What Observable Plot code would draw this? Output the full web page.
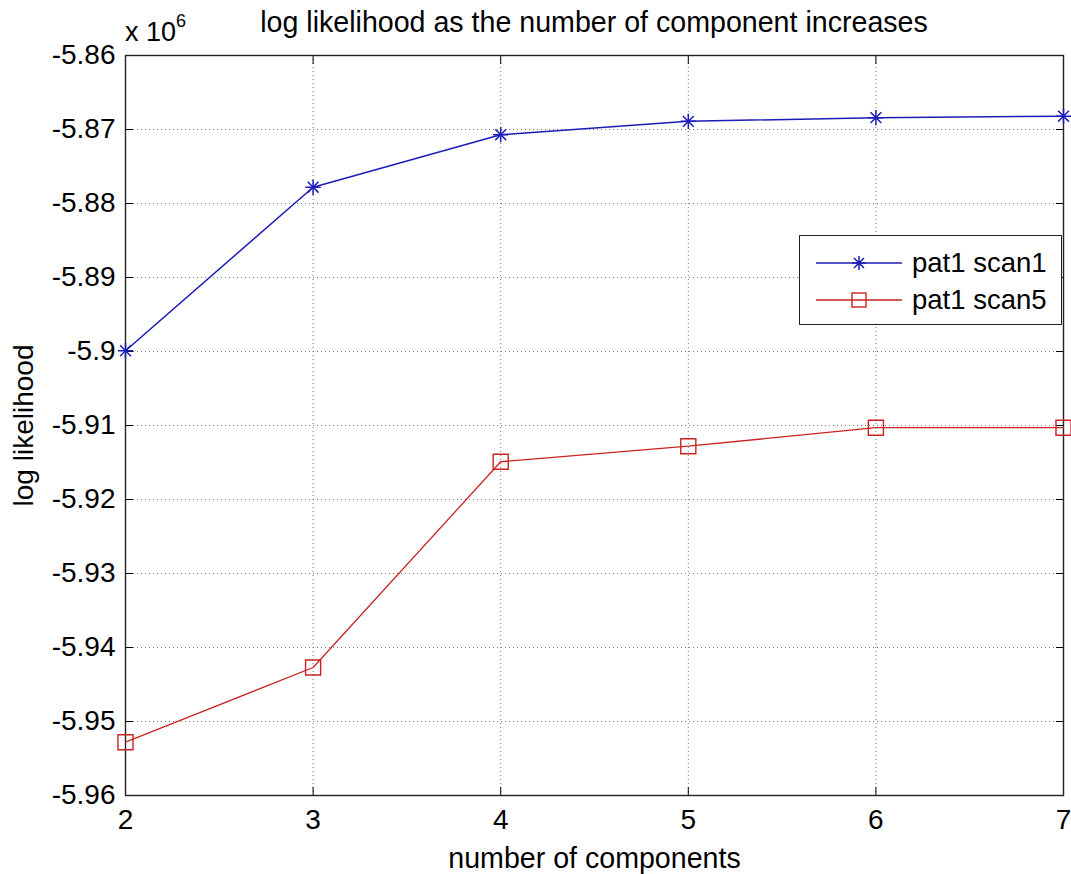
<!DOCTYPE html>
<html>
<head>
<meta charset="utf-8">
<script src="https://cdn.jsdelivr.net/npm/d3@7"></script>
<script src="https://cdn.jsdelivr.net/npm/@observablehq/plot@0.6"></script>
<style>
  html, body { margin: 0; padding: 0; background: #fff; }
  #wrap { position: relative; width: 1071px; height: 874px; font-family: "Liberation Sans", Arial, sans-serif; color: #000; }
  #title { position: absolute; top: 6px; left: 0; width: 1188px; text-align: center; font-size: 28.6px; white-space: nowrap; }
  #mult { position: absolute; left: 125px; top: 15px; font-size: 27px; white-space: nowrap; }
  #mult sup { font-size: 18px; position: relative; top: -4px; }
  #legend { position: absolute; left: 799px; top: 235px; width: 263px; height: 90px; border: 1.3px solid #222; background: #fff; box-sizing: border-box; }
  .entry { position: absolute; left: 0; height: 36px; display: flex; align-items: center; font-size: 27.5px; white-space: nowrap; }
  .entry svg { margin-left: 16px; margin-right: 10px; }
</style>
</head>
<body>
<div id="wrap">
  <div id="chart"></div>
  <div id="title"></div>
  <div id="mult">x 10<sup>6</sup></div>
  <div id="legend"></div>
</div>
<script>
// Data (log likelihood, in units of 10^6)
const components = [2, 3, 4, 5, 6, 7];
const scan1 = [-5.8999, -5.8778, -5.8707, -5.8689, -5.8684, -5.8682];
const scan5 = [-5.9528, -5.9427, -5.9149, -5.9128, -5.9103, -5.9103];
const seriesNames = ["pat1 scan1", "pat1 scan5"];
const xTicks = [2, 3, 4, 5, 6, 7];
const yTicks = [-5.96, -5.95, -5.94, -5.93, -5.92, -5.91, -5.90, -5.89, -5.88, -5.87, -5.86];
const titleText = "log likelihood as the number of component increases";
const xLabel = "number of components";
const yLabel = "log likelihood";

const blue = "#1c1cb8";
const red = "#cc2222";

const rows1 = components.map((c, i) => ({c, v: scan1[i]}));
const rows5 = components.map((c, i) => ({c, v: scan5[i]}));
const fmtY = d => String(+d.toFixed(2));
const fmtX = d => String(d);
const gridStyle = {stroke: "#666", strokeOpacity: 0.9, strokeDasharray: "1,3", strokeWidth: 1};

const chart = Plot.plot({
  width: 1071,
  height: 874,
  marginLeft: 125,
  marginRight: 8,
  marginTop: 55,
  marginBottom: 79,
  style: {fontFamily: "'Liberation Sans', Arial, sans-serif", fontSize: "28px", background: "#fff", color: "#000", overflow: "visible"},
  x: {domain: [2, 7]},
  y: {domain: [-5.96, -5.86]},
  marks: [
    Plot.gridX(xTicks, gridStyle),
    Plot.gridY(yTicks, gridStyle),
    Plot.axisX(xTicks, {anchor: "bottom", tickSize: 0, tickPadding: 14, fontSize: 28, tickFormat: fmtX, label: null}),
    Plot.axisX(xTicks, {anchor: "bottom", tickSize: -8, tickFormat: () => "", label: xLabel, labelAnchor: "center", labelArrow: "none", labelOffset: 72, fontSize: 28.6}),
    Plot.axisX(xTicks, {anchor: "top", tickSize: -8, tickFormat: () => "", label: null}),
    Plot.axisY(yTicks, {anchor: "left", tickSize: 0, tickPadding: 10, fontSize: 28, tickFormat: fmtY, label: null}),
    Plot.axisY(yTicks, {anchor: "left", tickSize: -8, tickFormat: () => "", label: yLabel, labelAnchor: "center", labelArrow: "none", labelOffset: 112, fontSize: 28}),
    Plot.axisY(yTicks, {anchor: "right", tickSize: -8, tickFormat: () => "", label: null}),
    Plot.frame({stroke: "#222", strokeWidth: 1.4}),
    Plot.line(rows1, {x: "c", y: "v", stroke: blue, strokeWidth: 1.5}),
    Plot.line(rows5, {x: "c", y: "v", stroke: red, strokeWidth: 1.3}),
    Plot.dot(rows1, {x: "c", y: "v", symbol: "plus", r: 5, stroke: blue, strokeWidth: 1.5}),
    Plot.dot(rows1, {x: "c", y: "v", symbol: "times", r: 5, stroke: blue, strokeWidth: 1.5}),
    Plot.dot(rows5, {x: "c", y: "v", symbol: "square", r: 8.5, stroke: red, fill: "none", strokeWidth: 1.4})
  ]
});
document.getElementById("chart").appendChild(chart);
document.getElementById("title").textContent = titleText;

// Legend
const legend = document.getElementById("legend");
const specs = [
  {name: seriesNames[0], color: blue, marker: "star", top: 9},
  {name: seriesNames[1], color: red, marker: "square", top: 46}
];
for (const s of specs) {
  const e = document.createElement("div");
  e.className = "entry";
  e.style.top = s.top + "px";
  let m;
  if (s.marker === "star") {
    m = `<path d="M43,11V25M36,18H50M38,13L48,23M38,23L48,13" stroke="${s.color}" stroke-width="1.5" fill="none"/>`;
  } else {
    m = `<rect x="36" y="11" width="14" height="14" stroke="${s.color}" stroke-width="1.4" fill="none"/>`;
  }
  e.innerHTML = `<svg width="86" height="36"><line x1="0" x2="86" y1="18" y2="18" stroke="${s.color}" stroke-width="1.3"/>${m}</svg><span>${s.name}</span>`;
  legend.appendChild(e);
}
</script>
</body>
</html>
